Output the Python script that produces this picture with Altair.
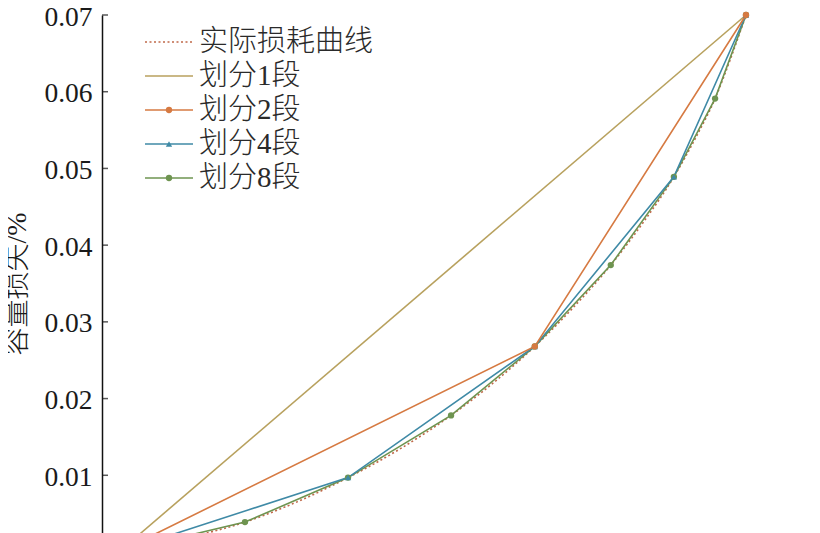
import altair as alt
import pandas as pd

# ---- data ----
series_names = ["实际损耗曲线", "划分1段", "划分2段", "划分4段", "划分8段"]
series_colors = ["#c0694a", "#b8a15e", "#d67a42", "#3f8aa6", "#6e9450"]

x_actual = [2.6, 12.4, 22.2, 30.2, 38.2, 46.2, 54.2, 60.7, 67.2, 73.1, 79.0, 83.9, 88.8, 92.0, 95.2, 97.6, 100]
v_actual = [0, 0.0017, 0.0039, 0.0065, 0.0097, 0.0134, 0.0178, 0.0220, 0.0268, 0.0318, 0.0374, 0.0428, 0.0489, 0.0537, 0.0591, 0.0643, 0.07]

x_1 = [2.6, 100]
v_1 = [0, 0.07]
x_2 = [2.6, 67.2, 100]
v_2 = [0, 0.0268, 0.07]
x_4 = [2.6, 38.2, 67.2, 88.8, 100]
v_4 = [0, 0.0097, 0.0268, 0.0489, 0.07]
x_8 = [2.6, 22.2, 38.2, 54.2, 67.2, 79.0, 88.8, 95.2, 100]
v_8 = [0, 0.0039, 0.0097, 0.0178, 0.0268, 0.0374, 0.0489, 0.0591, 0.07]

y_ticks = [0, 0.01, 0.02, 0.03, 0.04, 0.05, 0.06, 0.07]
y_title = "容量损失/%"

# ---- tables ----
def frame(name, xs, vs):
    return pd.DataFrame({"series": name, "x": xs, "v": vs})

actual_df = frame(series_names[0], x_actual, v_actual)
seg_df = pd.concat([
    frame(series_names[1], x_1, v_1),
    frame(series_names[4], x_8, v_8),
    frame(series_names[3], x_4, v_4),
    frame(series_names[2], x_2, v_2),
], ignore_index=True)
marker_df = seg_df[seg_df["series"] != series_names[1]]

W, H = 644, 537
SERIF = "Liberation Serif, Noto Sans CJK SC"

xs = alt.Scale(domain=[0, 100], nice=False, zero=False)
ys = alt.Scale(domain=[0, 0.07], nice=False, zero=True)
cscale = alt.Scale(domain=series_names, range=series_colors)

y_axis = alt.Axis(
    values=y_ticks[1:], format=".2f", title=y_title,
    labelFont="Liberation Serif", labelFontSize=27.5, labelColor="#1a1a1a",
    labelBaseline="alphabetic", labelOffset=10,
    labelPadding=10, ticks=False, tickSize=0, grid=False,
    domainColor="#111111", domainWidth=1.5,
    titleFont=SERIF, titleFontSize=28, titleFontWeight=300, titleColor="#1a1a1a",
    titleX=-85, titleY=H / 2, titleBaseline="middle", titleAngle=270,
)

actual = alt.Chart(actual_df).mark_line(
    strokeDash=[2, 2.5], strokeWidth=1.6, interpolate="monotone"
).encode(
    x=alt.X("x:Q", scale=xs, axis=None),
    y=alt.Y("v:Q", scale=ys, axis=y_axis),
    color=alt.Color("series:N", scale=cscale, legend=None),
)

segs = alt.Chart(seg_df).mark_line(strokeWidth=1.6).encode(
    x=alt.X("x:Q", scale=xs, axis=None),
    y=alt.Y("v:Q", scale=ys),
    color=alt.Color("series:N", scale=cscale, legend=None),
    detail="series:N",
)

shape_scale = alt.Scale(domain=[series_names[2], series_names[3], series_names[4]],
                        range=["circle", "triangle-up", "circle"])
pts = alt.Chart(marker_df).mark_point(filled=True, opacity=1, size=40).encode(
    x=alt.X("x:Q", scale=xs, axis=None),
    y=alt.Y("v:Q", scale=ys),
    color=alt.Color("series:N", scale=cscale, legend=None),
    shape=alt.Shape("series:N", scale=shape_scale, legend=None),
)

ticks = alt.Chart(pd.DataFrame({"t": y_ticks})).mark_tick(
    orient="horizontal", size=6, thickness=1.5, color="#111111"
).encode(y=alt.Y("t:Q", scale=ys), x=alt.value(3))

# ---- manual legend ----
legend_layers = []
marker_shapes = {series_names[2]: "circle", series_names[3]: "triangle-up", series_names[4]: "circle"}
for i, (name, col) in enumerate(zip(series_names, series_colors)):
    ly = 27 + i * 34
    one = pd.DataFrame({"label": [name]})
    if i == 0:
        line = alt.Chart(one).mark_rule(strokeDash=[2, 2.5], strokeWidth=1.6, color=col)
    else:
        line = alt.Chart(one).mark_rule(strokeWidth=1.6, color=col)
    legend_layers.append(line.encode(x=alt.value(43), x2=alt.value(91), y=alt.value(ly)))
    if name in marker_shapes:
        legend_layers.append(
            alt.Chart(one).mark_point(filled=True, opacity=1, size=40, color=col,
                                      shape=marker_shapes[name])
            .encode(x=alt.value(67), y=alt.value(ly))
        )
    legend_layers.append(
        alt.Chart(one).mark_text(align="left", baseline="middle", font=SERIF,
                                 fontSize=29, fontWeight=300, color="#2a2a2a")
        .encode(text="label:N", x=alt.value(97), y=alt.value(ly))
    )

chart = alt.layer(actual, segs, pts, ticks, *legend_layers).properties(
    width=W, height=H,
    autosize=alt.AutoSizeParams(type="none"),
    padding={"left": 94, "top": 7, "right": 10, "bottom": 0},
).configure_view(stroke=None)

chart.save("out.html", embed_options={"renderer": "svg", "actions": False})
